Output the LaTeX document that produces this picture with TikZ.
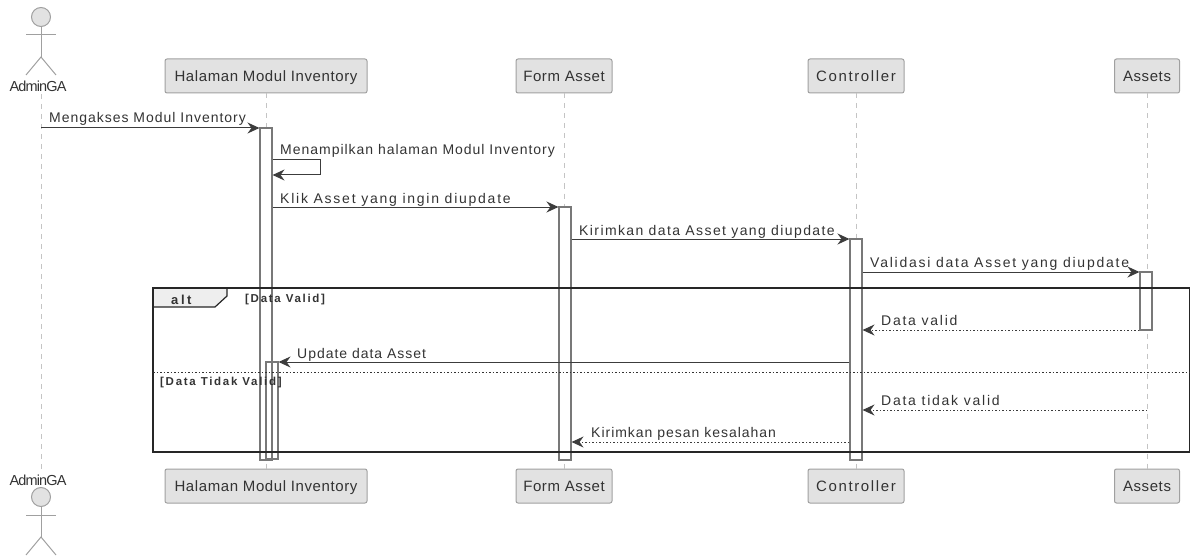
\documentclass[tikz,border=0pt]{standalone}
\usepackage{xcolor}
\usepackage{fontspec}
\usepackage{tikz}
\usetikzlibrary{arrows.meta}
\setmainfont{Liberation Sans}
\newfontfamily\partfont[LetterSpace=4]{Liberation Sans}
\newfontfamily\ctrlfont[LetterSpace=11]{Liberation Sans}
\newfontfamily\msgfont[LetterSpace=7]{Liberation Sans}
\newfontfamily\msgfontmid[LetterSpace=10]{Liberation Sans}
\newfontfamily\msgfontwide[LetterSpace=12.5]{Liberation Sans}
\newfontfamily\actorfont[LetterSpace=-6]{Liberation Sans}
\newfontfamily\framefont[LetterSpace=15]{Liberation Sans Bold}
\newfontfamily\altfont[LetterSpace=20]{Liberation Sans Bold}
\definecolor{partfill}{HTML}{E2E2E2}
\definecolor{partline}{HTML}{A0A0A0}
\definecolor{lifeline}{HTML}{C4C4C4}
\definecolor{barline}{HTML}{787878}
\definecolor{msgline}{HTML}{3C3C3C}
\definecolor{txt}{HTML}{333333}
\tikzset{
	part/.style={draw=partline,fill=partfill,rounded corners=2pt,line width=1pt,minimum height=34pt,inner sep=0pt,text height=11pt,text depth=0pt,text=txt,font=\fontsize{15}{17}\selectfont\partfont},
	actorname/.style={inner sep=0pt,text=txt,font=\fontsize{14.5}{16}\selectfont\actorfont},
	life/.style={draw=lifeline,line width=1pt,dash pattern=on 5pt off 5pt},
	actorline/.style={draw=partline,line width=1pt},
	actvbar/.style={draw=barline,fill=white,line width=1.1pt,minimum width=12pt,inner sep=0pt},
	msg/.style={draw=msgline,line width=1pt,-{Stealth[length=12pt,width=11pt,inset=4pt]}},
	msgdot/.style={msg,dash pattern=on 1.5pt off 2pt},
	msgtext/.style={anchor=base west,inner sep=0pt,text=txt,font=\fontsize{14}{16}\selectfont\msgfont},
	frametext/.style={anchor=base west,inner sep=0pt,text=txt,font=\fontsize{11.5}{13}\selectfont\framefont}
}
\begin{document}
\begin{tikzpicture}[x=1pt,y=-1pt]
	\useasboundingbox (0,0) rectangle (1190,556);
	
	% participants
	\node[part,minimum width=202pt] (halTop) at (266,76) {Halaman Modul Inventory};
	\node[part,minimum width=96pt] (formTop) at (564,76) {Form Asset};
	\node[part,minimum width=96pt,font=\fontsize{15}{17}\selectfont\ctrlfont] (ctrlTop) at (856,76) {Controller};
	\node[part,minimum width=65pt] (assetTop) at (1147,76) {Assets};
	\node[part,minimum width=202pt] (halBot) at (266,486) {Halaman Modul Inventory};
	\node[part,minimum width=96pt] (formBot) at (564,486) {Form Asset};
	\node[part,minimum width=96pt,font=\fontsize{15}{17}\selectfont\ctrlfont] (ctrlBot) at (856,486) {Controller};
	\node[part,minimum width=65pt] (assetBot) at (1147,486) {Assets};
	\node[actorname] (adminTop) at (38,86) {AdminGA};
	\node[actorname] (adminBot) at (38,480) {AdminGA};
	\coordinate (adminLife) at (41,94);
	\coordinate (adminEnd) at (41,471);
	
	\foreach \y in {0,480}{
		\draw[actorline,fill=partfill] (41,17+\y) circle (9.5pt);
		\draw[actorline] (41,27+\y) -- (41,57+\y);
		\draw[actorline] (26,35+\y) -- (56,35+\y);
		\draw[actorline] (26,75+\y) -- (41,57+\y) -- (56,75+\y);
	}
	
	% lifelines
	\draw[life] (adminLife) -- (adminEnd);
	\draw[life] (halTop) -- (halBot);
	\draw[life] (formTop) -- (formBot);
	\draw[life] (ctrlTop) -- (ctrlBot);
	\draw[life] (assetTop) -- (assetBot);
	
	% activations
	\node[actvbar,minimum height=97pt] (barHalB) at (272,410.5) {};
	\node[actvbar,fill=none,minimum height=332pt] (barHal) at (266,294) {};
	\fill[white] (261,129) rectangle (271,361);
	\node[actvbar,minimum height=253pt] (barForm) at (565,333.5) {};
	\node[actvbar,minimum height=221pt] (barCtrl) at (856,349.5) {};
	\node[actvbar,minimum height=58pt] (barAsset) at (1146,301) {};
	
	% alt frame
	\coordinate (altCorner) at (153,288);
	\coordinate (altEnd) at (1190,452);
	\draw[fill=partfill!60,draw=black!85,line width=1.2pt] (153,288) -- (227,288) -- (227,296) -- (215,307) -- (153,307) -- cycle;
	\draw[draw=black!85,line width=1.6pt] (altCorner) rectangle (altEnd);
	\draw[draw=black!80,line width=1pt,dash pattern=on 1.5pt off 2pt] (153,372) -- (1190,372);
	\node[anchor=base west,inner sep=0pt,text=txt,font=\fontsize{13}{15}\selectfont\altfont] (altName) at (171,304) {alt};
	\node[frametext] (altValid) at (245,302) {[Data Valid]};
	\node[frametext] (altInvalid) at (160,385) {[Data Tidak Valid]};
	
	% messages
	\draw[msg] (adminLife |- 0,128) -- (barHal.west |- 0,128);
	\node[msgtext] (tAkses) at (49,123) {Mengakses Modul Inventory};
	\draw[msg] (barHal.east |- 0,160) -- (320,160) -- (320,175) -- (barHal.east |- 0,175);
	\node[msgtext] (tTampil) at (280,155) {Menampilkan halaman Modul Inventory};
	\draw[msg] (barHal.east |- 0,207) -- (barForm.west |- 0,207);
	\node[msgtext] (tKlik) at (280,203) {\msgfontwide Klik Asset yang ingin diupdate};
	\draw[msg] (barForm.east |- 0,239) -- (barCtrl.west |- 0,239);
	\node[msgtext] (tKirim) at (579,235) {\msgfontmid Kirimkan data Asset yang diupdate};
	\draw[msg] (barCtrl.east |- 0,272) -- (barAsset.west |- 0,272);
	\node[msgtext] (tValidasi) at (870,267) {\msgfontwide Validasi data Asset yang diupdate};
	\draw[msgdot] (barAsset.west |- 0,330) -- (barCtrl.east |- 0,330);
	\node[msgtext] (tValid) at (881,325) {\msgfontwide Data valid};
	\draw[msg] (barCtrl.west |- 0,362) -- (barHalB.east |- 0,362);
	\node[msgtext] (tUpdate) at (297,358) {Update data Asset};
	\draw[msgdot] (assetTop |- 0,410) -- (barCtrl.east |- 0,410);
	\node[msgtext] (tTidak) at (881,405) {\msgfontwide Data tidak valid};
	\draw[msgdot] (barCtrl.west |- 0,442) -- (barForm.east |- 0,442);
	\node[msgtext] (tPesan) at (591,437) {Kirimkan pesan kesalahan};
\end{tikzpicture}
\end{document}
